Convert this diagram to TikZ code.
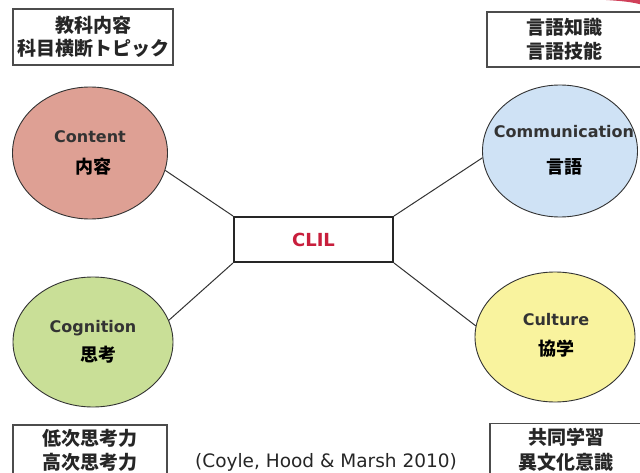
\documentclass[tikz,border=0pt]{standalone}
\usepackage{fontspec}
\setmainfont{DejaVu Sans}
\newfontfamily\cjk{Noto Sans CJK JP}
\usetikzlibrary{shapes.geometric}
\definecolor{contentfill}{RGB}{222,160,148}
\definecolor{commfill}{RGB}{207,226,245}
\definecolor{cogfill}{RGB}{201,223,151}
\definecolor{cultfill}{RGB}{249,243,158}
\definecolor{clilred}{RGB}{200,30,60}
\newcommand{\jlabel}[1]{{\cjk\fontsize{18}{20}\selectfont\color{black}#1}}

\begin{document}
\begin{tikzpicture}[x=1pt,y=1pt]
\tikzstyle{every node}+=[inner sep=0pt]
\tikzstyle{bubble}=[draw=black!80, ellipse, line width=0.9pt]
\tikzstyle{bubbletext}=[align=center, text=black!80, font=\bfseries\fontsize{16}{31}\selectfont]
\tikzstyle{topic}=[draw=black!70, line width=1.3pt, fill=white, text=black!85, align=center]
\tikzstyle{link}=[draw=black!80, line width=1pt]
\useasboundingbox (0,0) rectangle (640,-473);
\clip (0,0) rectangle (640,-473);
\fill [white] (0,0) rectangle (640,-473);
% red sliver at top right
\fill [clilred!85] (606,0) .. controls (622,-1) and (632,-2) .. (641,-4.5) -- (641,0) -- cycle;
% the four topic boxes
\node [topic, minimum width=160, minimum height=56, font=\cjk\bfseries\fontsize{19}{23}\selectfont] (tl) at (93,-37) {教科内容\\科目横断トピック};
\node [topic, minimum width=155, minimum height=55, font=\cjk\bfseries\fontsize{19}{24}\selectfont] (tr) at (564.5,-39.5) {言語知識\\言語技能};
\node [topic, minimum width=154, minimum height=50, font=\cjk\bfseries\fontsize{19}{24}\selectfont] (bl) at (90,-450) {低次思考力\\高次思考力};
\node [topic, minimum width=152, minimum height=52, font=\cjk\bfseries\fontsize{19}{25}\selectfont] (br) at (566,-449.5) {共同学習\\異文化意識};
% the 4Cs
\node [bubble, fill=contentfill, minimum width=155, minimum height=132] (content) at (90,-153) {};
\node [bubbletext] (contentT) at (content) {Content\\\hspace*{8pt}\jlabel{内容}};
\node [bubble, fill=commfill, minimum width=155, minimum height=132] (comm) at (560,-151) {};
\node [bubbletext, font=\bfseries\fontsize{16}{36}\selectfont] (commT) at (564,-150) {Communication\\\jlabel{言語}};
\node [bubble, fill=cogfill, minimum width=160, minimum height=130] (cog) at (93,-342) {};
\node [bubbletext, font=\bfseries\fontsize{16}{29}\selectfont] (cogT) at (cog) {Cognition\\\hspace*{10pt}\jlabel{思考}};
\node [bubble, fill=cultfill, minimum width=160, minimum height=130] (cult) at (555,-337) {};
\node [bubbletext, font=\bfseries\fontsize{16}{30}\selectfont] (cultT) at (556,-335) {Culture\\\jlabel{協学}};
% centre box
\node [draw=black!85, line width=2pt, fill=white, minimum width=159, minimum height=45, text=clilred, font=\bfseries\fontsize{18}{20}\selectfont] (clil) at (313.5,-239.5) {CLIL};
\draw [link] (clil.north west) -- (content.-13);
\draw [link] (clil.south west) -- (cog.16);
\draw [link] (clil.north east) -- (comm.185);
\draw [link] (clil.south east) -- (cult.172);
\node [anchor=base, text=black!85, font=\fontsize{18.5}{20}\selectfont] (cite) at (326,-467) {(Coyle, Hood \& Marsh 2010)};
\end{tikzpicture}
\end{document}
